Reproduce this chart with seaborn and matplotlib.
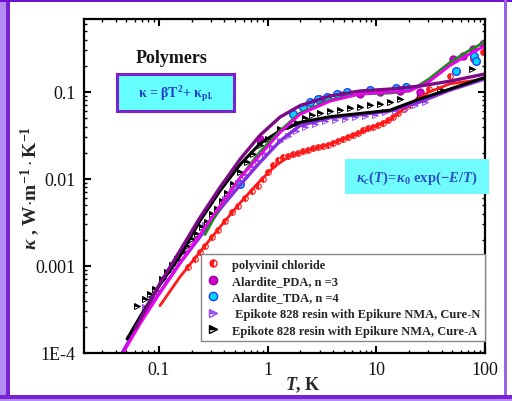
import matplotlib
matplotlib.use("Agg")
import matplotlib.pyplot as plt
import seaborn as sns
import numpy as np
from matplotlib.lines import Line2D
from matplotlib.patches import Rectangle
from matplotlib.ticker import FixedLocator, FixedFormatter, LogLocator, NullFormatter

# ---------------- data ----------------
# fit lines
black_line_T = [0.0508, 0.0668, 0.102, 0.156, 0.238, 0.364, 0.556, 0.849, 1.30, 1.98, 3.74, 7.06, 13.3, 25.2, 47.5, 99.8]
black_line_K = [1.45e-4, 2.6e-4, 6.1e-4, 1.3e-3, 3.3e-3, 7.3e-3, 0.0146, 0.0255, 0.0359, 0.0447, 0.052, 0.0566, 0.0617, 0.0831, 0.108, 0.147]

dpurple_line_T = [0.0603, 0.102, 0.156, 0.238, 0.364, 0.556, 0.849, 1.30, 1.98, 3.74, 7.06, 13.3, 25.2, 47.5, 99.8]
dpurple_line_K = [1.9e-4, 6.3e-4, 1.5e-3, 3.6e-3, 8.0e-3, 0.0168, 0.0318, 0.0515, 0.0695, 0.0900, 0.1026, 0.108, 0.117, 0.133, 0.161]

magenta_line_T = [0.0467, 0.0668, 0.102, 0.156, 0.238, 0.364, 0.556, 0.849, 1.30, 1.98, 3.74, 7.06, 13.3, 20.4, 30.5, 47.5, 72.0, 99.8]
magenta_line_K = [1e-4, 2.15e-4, 4.9e-4, 1.08e-3, 2.3e-3, 4.9e-3, 0.0103, 0.0188, 0.0342, 0.0553, 0.0783, 0.0948, 0.100, 0.103, 0.131, 0.201, 0.273, 0.339]

green_line_T = [0.265, 0.364, 0.556, 0.849, 1.30, 1.98, 3.74, 7.06, 13.3, 20.4, 30.5, 47.5, 72.0, 99.8]
green_line_K = [2.3e-3, 4.8e-3, 0.0103, 0.0205, 0.0359, 0.0572, 0.0807, 0.0948, 0.0972, 0.103, 0.141, 0.218, 0.301, 0.376]

violet_line_T = [0.0457, 0.0668, 0.102, 0.156, 0.238, 0.364, 0.556, 0.849, 1.30, 1.98, 3.74, 7.06, 13.3, 25.2, 47.5, 99.8]
violet_line_K = [1e-4, 2.3e-4, 5.0e-4, 1.08e-3, 2.15e-3, 4.5e-3, 8.5e-3, 0.0155, 0.0274, 0.0410, 0.0505, 0.0548, 0.0605, 0.0768, 0.105, 0.141]

red_line_T = [0.102, 0.156, 0.238, 0.364, 0.556, 0.849, 1.17, 1.60, 2.36, 3.74, 7.06, 13.3, 20.4, 30.5, 47.5, 99.8]
red_line_K = [3.5e-4, 7.5e-4, 1.45e-3, 2.8e-3, 5.3e-3, 9.5e-3, 0.0141, 0.0184, 0.0213, 0.0251, 0.0338, 0.0476, 0.0728, 0.100, 0.124, 0.141]

# measured points
pvc_T = [0.185, 0.214, 0.238, 0.265, 0.307, 0.349, 0.405, 0.470, 0.533, 0.618, 0.718, 0.815, 0.906, 1.007, 1.12,
         1.245, 1.38, 1.54, 1.71, 1.90, 2.11, 2.35, 2.61, 2.90, 3.23, 3.59, 3.99, 4.44, 4.93, 5.48, 6.10, 6.78,
         7.54, 8.38, 9.31, 10.4, 11.5, 12.8, 14.2, 15.8, 17.9, 20.4, 24.2, 30.5, 47.5, 77.4, 95.7]
pvc_K = [9.75e-4, 1.20e-3, 1.45e-3, 1.70e-3, 2.16e-3, 2.59e-3, 3.30e-3, 4.18e-3, 4.90e-3, 6.05e-3, 7.28e-3, 8.32e-3,
         0.0100, 0.0120, 0.0145, 0.0165, 0.0179, 0.0184, 0.0194, 0.0199, 0.0210, 0.0215, 0.0227, 0.0233, 0.0239,
         0.0246, 0.0259, 0.0274, 0.0288, 0.0304, 0.0321, 0.0338, 0.0366, 0.0385, 0.0396, 0.0418, 0.0440, 0.0477,
         0.0516, 0.0574, 0.0638, 0.0710, 0.0831, 0.108, 0.153, 0.239, 0.288]

pda_T = [0.849, 3.03, 4.62, 7.07, 10.8, 16.5, 25.2, 50.7, 62.7, 77.4, 95.6]
pda_K = [0.0288, 0.083, 0.092, 0.095, 0.100, 0.103, 0.100, 0.239, 0.260, 0.310, 0.356]

tda_T = [0.556, 1.71, 2.11, 2.45, 2.90, 3.51, 4.34, 5.37, 8.73, 15.1, 18.7, 54.0, 79.0, 82.4]
tda_K = [0.0088, 0.0558, 0.0672, 0.0767, 0.083, 0.0877, 0.0948, 0.100, 0.105, 0.111, 0.114, 0.174, 0.260, 0.227]

cureN_T = [0.0743, 0.0863, 0.098, 0.1135, 0.132, 0.150, 0.173, 0.201, 0.229, 0.265, 0.307, 0.349, 0.405, 0.470,
           0.533, 0.618, 0.718, 0.815, 0.944, 1.096, 1.30, 1.54, 1.82, 2.20, 2.72, 3.37, 4.16, 5.14, 6.35, 7.85,
           9.70, 12.0, 14.8, 18.3, 22.6, 28.0]
cureN_K = [3.38e-4, 4.18e-4, 5.16e-4, 7.10e-4, 9.25e-4, 1.14e-3, 1.49e-3, 1.94e-3, 2.28e-3, 2.96e-3, 3.66e-3,
           4.52e-3, 5.89e-3, 7.28e-3, 9.0e-3, 0.0111, 0.01374, 0.0161, 0.0194, 0.0233, 0.0274, 0.0312, 0.0356,
           0.0396, 0.0429, 0.0464, 0.0477, 0.0490, 0.0516, 0.0530, 0.0544, 0.0589, 0.0605, 0.0638, 0.0710, 0.0768]

cureA_T = [0.0628, 0.0743, 0.0826, 0.0918, 0.1066, 0.1185, 0.132, 0.1466, 0.163, 0.181, 0.201, 0.224, 0.249, 0.277,
           0.307, 0.342, 0.380, 0.423, 0.480, 0.556, 0.645, 0.733, 0.849, 1.007, 1.30, 1.60, 1.86, 2.20, 2.56,
           3.03, 3.74, 4.62, 5.71, 7.06, 8.73, 10.8, 13.3, 16.5, 25.2, 38.5, 75.7]
cureA_K = [3.47e-4, 4.18e-4, 4.77e-4, 5.45e-4, 7.10e-4, 8.55e-4, 1.03e-3, 1.20e-3, 1.45e-3, 1.70e-3, 2.05e-3,
           2.34e-3, 2.81e-3, 3.21e-3, 3.96e-3, 4.52e-3, 5.58e-3, 6.90e-3, 8.77e-3, 0.01205, 0.0157, 0.0194, 0.0246,
           0.0288, 0.0376, 0.0407, 0.0440, 0.0503, 0.0544, 0.0574, 0.0605, 0.0621, 0.0655, 0.0672, 0.0710, 0.0728,
           0.0768, 0.0831, 0.0948, 0.108, 0.184]

legend_labels = ["polyvinil chloride", "Alardite_PDA, n =3", "Alardite_TDA, n =4",
                 " Epikote 828 resin with Epikure NMA, Cure-N", "Epikote 828 resin with Epikure NMA, Cure-A"]
xtick_vals = [0.1, 1, 10, 100]
xtick_labels = ["0.1", "1", "10", "100"]
ytick_vals = [1e-4, 1e-3, 1e-2, 0.1]
ytick_labels = ["1E-4", "0.001", "0.01", "0.1"]

# ---------------- style ----------------
sns.set_theme(style="white")
plt.rcParams['font.family'] = ['Liberation Serif', 'DejaVu Serif']
plt.rcParams['mathtext.fontset'] = 'custom'
plt.rcParams['mathtext.rm'] = 'Liberation Serif:bold'
plt.rcParams['mathtext.it'] = 'Liberation Serif:italic:bold'
plt.rcParams['mathtext.bf'] = 'Liberation Serif:bold'

RED = '#ff1a1a'
MAG = '#ee00ee'
GREEN = '#1e8a1e'
DPUR = '#7a0a86'
VIOL = '#8a2be2'
VIOL_M = '#9a50f0'

fig = plt.figure(figsize=(5.12, 4.02), dpi=100)
fig.patch.set_facecolor('white')
ax = fig.add_axes([84 / 512, 1 - 354 / 402, 401 / 512, 334 / 402])
ax.set_xscale('log')
ax.set_yscale('log')


def pts(T, K, **kw):
    sns.lineplot(x=T, y=K, ax=ax, sort=False, estimator=None, linestyle='', legend=False, **kw)


def line(T, K, color, lw):
    sns.lineplot(x=T, y=K, ax=ax, sort=False, estimator=None, color=color, linewidth=lw, legend=False)


# markers
pts(pvc_T, pvc_K, marker='o', markersize=4.0, color=RED, markerfacecolor=RED, markeredgecolor=RED,
    markeredgewidth=0.8, fillstyle='left', markerfacecoloralt='white')
pts(cureN_T, cureN_K, marker='>', markersize=4.2, color=VIOL_M, markerfacecolor=VIOL_M, markeredgecolor=VIOL_M,
    markeredgewidth=0.7, fillstyle='top', markerfacecoloralt='white')
pts(cureA_T, cureA_K, marker='>', markersize=4.5, color='black', markerfacecolor='black', markeredgecolor='black',
    markeredgewidth=0.7, fillstyle='top', markerfacecoloralt='white')
pts(pda_T, pda_K, marker='o', markersize=5.2, color='#cc00cc', markerfacecolor='#d000d0', markeredgecolor='#a000a0',
    markeredgewidth=0.8)
pts(tda_T, tda_K, marker='o', markersize=5.5, color='#00ccff', markerfacecolor='#00d8ff', markeredgecolor='#2040ff',
    markeredgewidth=1.0)

# fit lines
line(red_line_T, red_line_K, RED, 2.0)
line(violet_line_T, violet_line_K, VIOL, 2.4)
line(black_line_T, black_line_K, 'black', 2.2)
line(green_line_T, green_line_K, GREEN, 2.0)
line(magenta_line_T, magenta_line_K, MAG, 2.0)
line(dpurple_line_T, dpurple_line_K, DPUR, 2.4)

ax.set_xlim(0.0204, 100)
ax.set_ylim(1e-4, 0.69)
ax.xaxis.set_major_locator(FixedLocator(xtick_vals))
ax.xaxis.set_major_formatter(FixedFormatter(xtick_labels))
ax.yaxis.set_major_locator(FixedLocator(ytick_vals))
ax.yaxis.set_major_formatter(FixedFormatter(ytick_labels))
ax.xaxis.set_minor_locator(LogLocator(base=10, subs=np.arange(2, 10)))
ax.yaxis.set_minor_locator(LogLocator(base=10, subs=np.arange(2, 10)))
ax.xaxis.set_minor_formatter(NullFormatter())
ax.yaxis.set_minor_formatter(NullFormatter())
ax.tick_params(which='both', direction='in', top=True, right=True, bottom=True, left=True, color='black')
ax.tick_params(which='major', length=5, width=1.5, labelsize=13, pad=6, labelcolor='#111111')
ax.tick_params(which='minor', length=2.5, width=1.0)
for s in ax.spines.values():
    s.set_linewidth(1.6)
    s.set_color('black')
ax.set_xlabel('')
ax.set_ylabel('')

fig.text(303 / 512, 1 - 385 / 402, r"$T$, K", ha='center', va='center', fontsize=13, fontweight='bold')
fig.text(30 / 512, 1 - 188 / 402, r"$\kappa$ , W$\cdot$m$^{-1}\cdot$K$^{-1}$", ha='center', va='center',
         rotation=90, fontsize=14, fontweight='bold')
fig.text(172 / 512, 1 - 59 / 402, "Polymers", ha='center', va='center', fontsize=13, fontweight='bold',
         color='#151515')

# annotation boxes
fig.patches.append(Rectangle((117 / 512, 1 - 112 / 402), 117 / 512, 37 / 402, transform=fig.transFigure,
                             figure=fig, facecolor='#66ffff', edgecolor='#7a22d0', linewidth=2.2, zorder=5))
fig.text(175.5 / 512, 1 - 94 / 402, r"κ = βT$^{2}$+ κ$_{\mathrm{pl.}}$", ha='center', va='center',
         fontsize=10, fontweight='bold', color='#1f3fd0', zorder=6)
fig.patches.append(Rectangle((345 / 512, 1 - 195 / 402), 144 / 512, 35 / 402, transform=fig.transFigure,
                             figure=fig, facecolor='#70fcfc', edgecolor='none', zorder=5))
fig.text(417 / 512, 1 - 178 / 402, r"$\kappa_c(T)\!=\!\kappa_0$ $\mathrm{exp}(-E/T)$", ha='center', va='center',
         fontsize=10.5, color='#2a50c8', zorder=6)

# legend
handles = [
    Line2D([], [], ls='', marker='o', markersize=5, color=RED, markerfacecolor=RED, markeredgecolor=RED,
           fillstyle='left', markerfacecoloralt='white'),
    Line2D([], [], ls='', marker='o', markersize=6, markerfacecolor='#d000d0', markeredgecolor='#a000a0'),
    Line2D([], [], ls='', marker='o', markersize=6, markerfacecolor='#00d8ff', markeredgecolor='#2040ff'),
    Line2D([], [], ls='', marker='>', markersize=6, color=VIOL_M, markerfacecolor=VIOL_M, markeredgecolor=VIOL_M,
           fillstyle='top', markerfacecoloralt='white'),
    Line2D([], [], ls='', marker='>', markersize=6, color='black', markerfacecolor='black', markeredgecolor='black',
           fillstyle='top', markerfacecoloralt='white'),
]
leg = ax.legend(handles, legend_labels, loc='lower right', bbox_to_anchor=(0.999, 0.036), borderaxespad=0,
                prop={'family': 'Liberation Serif', 'weight': 'bold', 'size': 9}, frameon=True, fancybox=False,
                framealpha=1, edgecolor='#888888', handlelength=1.2, handletextpad=0.9, labelspacing=0.36,
                borderpad=0.35)
leg.get_frame().set_linewidth(1.0)
leg.set_zorder(10)

# outer purple frame
frame = [
    ((0, 0), 6 / 512, 1, '#b48cf4'),
    ((6 / 512, 0), 4 / 512, 1, '#7a22d6'),
    ((0, 1 - 3 / 402), 1, 3 / 402, '#6e10d0'),
    ((504 / 512, 0), 3 / 512, 1, '#9a60e8'),
    ((0, 2 / 402), 1, 4 / 402, '#7a22d6'),
    ((0, 0), 1, 2 / 402, '#b48cf4'),
]
for (xy, w, h, c) in frame:
    fig.patches.append(Rectangle(xy, w, h, transform=fig.transFigure, figure=fig, facecolor=c,
                                 edgecolor='none', zorder=20))

fig.savefig('out.png', dpi=100)
